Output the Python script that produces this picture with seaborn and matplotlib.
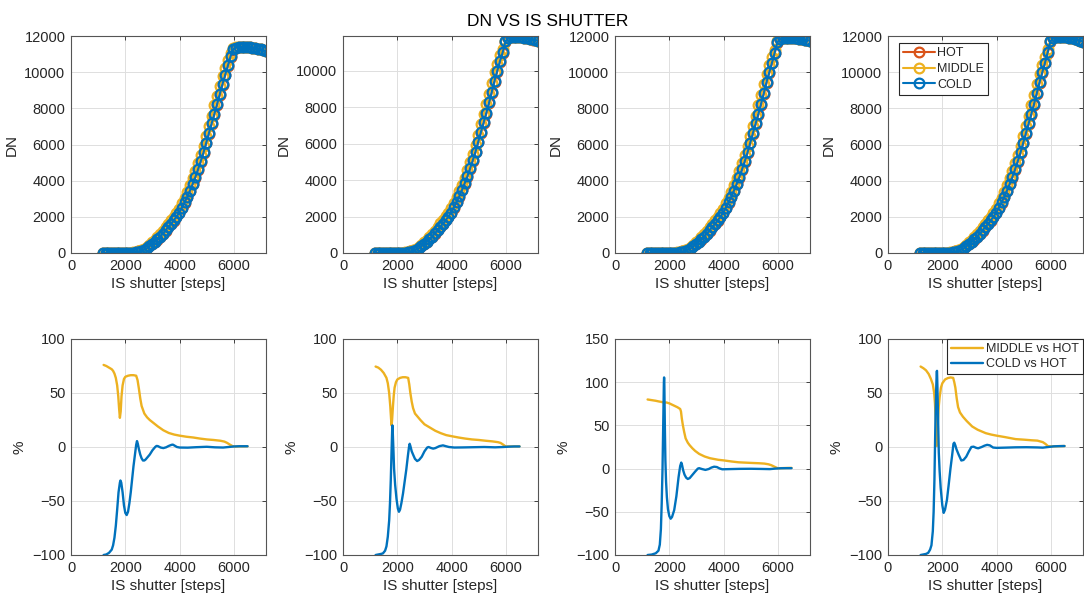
import matplotlib
matplotlib.use("Agg")
import matplotlib.pyplot as plt
import seaborn as sns

# ---------------- data ----------------
shutter_steps = [1180, 1280, 1380, 1480, 1580, 1680, 1780, 1880, 1980, 2080,
                 2180, 2280, 2380, 2480, 2580, 2680, 2780, 2880, 2980, 3080,
                 3180, 3280, 3380, 3480, 3580, 3680, 3780, 3880, 3980, 4080,
                 4180, 4280, 4380, 4480, 4580, 4680, 4780, 4880, 4980, 5080,
                 5180, 5280, 5380, 5480, 5580, 5680, 5780, 5880, 5980, 6080,
                 6180, 6280, 6380, 6480, 6580, 6680, 6780, 6880, 6980, 7080, 7180]

cold_low = [0, 0, 0, 0, 0, 0, 0, 0, 3, 6, 12, 20, 35, 70, 110, 170, 250, 360,
            480, 610, 750, 900, 1070, 1250, 1440, 1610, 1800, 2000,
            2220, 2500, 2800, 3100, 3450, 3820, 4200, 4640, 5090, 5560,
            6100, 6640, 7170, 7700, 8260, 8850, 9450, 9990, 10520]
middle_low = [0, 0, 0, 0, 0, 0, 0, 0, 5, 10, 19, 33, 57, 110, 155, 225, 320, 450,
              585, 730, 885, 1045, 1230, 1425, 1630, 1805, 2005, 2220,
              2455, 2750, 3065, 3380, 3745, 4125, 4525, 4980, 5445, 5940,
              6495, 7050, 7600, 8160, 8740, 9335, 9920, 10390, 10835]
hot_low = [0, 0, 0, 0, 0, 0, 0, 0, 4, 8, 15, 25, 45, 85, 125, 190, 275, 380,
           490, 615, 745, 895, 1060, 1240, 1425, 1600, 1795, 1990,
           2205, 2480, 2780, 3080, 3430, 3790, 4170, 4600, 5050, 5520,
           6060, 6590, 7120, 7650, 8210, 8800, 9400, 9950, 10480]

# panel 1
cold_1 = cold_low[:42] + [8240, 8800, 9350, 9870, 10380, 10900, 11280, 11360, 11380,
                          11390, 11395, 11390, 11380, 11360, 11330, 11300, 11260, 11210, 11150]
middle_1 = middle_low[:42] + [8700, 9230, 9780, 10250, 10680, 11060, 11310, 11365, 11383,
                              11392, 11397, 11392, 11382, 11362, 11332, 11302, 11262, 11212, 11152]
hot_1 = hot_low[:42] + [8190, 8750, 9300, 9830, 10340, 10860, 11250, 11350, 11375,
                        11385, 11390, 11385, 11375, 11355, 11325, 11295, 11255, 11205, 11145]
# panel 2
cold_2 = cold_low + [11000, 11600, 11780, 11830, 11850, 11855, 11850, 11830, 11800,
                     11770, 11740, 11710, 11680, 11640]
middle_2 = middle_low + [11170, 11640, 11785, 11835, 11855, 11858, 11853, 11833, 11803,
                         11773, 11743, 11713, 11683, 11643]
hot_2 = hot_low + [10960, 11570, 11770, 11825, 11845, 11850, 11845, 11825, 11795,
                   11765, 11735, 11705, 11675, 11635]
# panel 3
cold_3 = cold_low + [11080, 11660, 11830, 11880, 11900, 11905, 11900, 11890, 11870,
                     11850, 11820, 11790, 11770, 11740]
middle_3 = middle_low + [11250, 11700, 11835, 11885, 11905, 11908, 11903, 11893, 11873,
                         11853, 11823, 11793, 11773, 11743]
hot_3 = hot_low + [11040, 11630, 11820, 11875, 11895, 11900, 11895, 11885, 11865,
                   11845, 11815, 11785, 11765, 11735]
# panel 4
cold_4 = cold_low + [11100, 11700, 11880, 11930, 11950, 11955, 11950, 11930, 11900,
                     11870, 11830, 11790, 11740, 11690]
middle_4 = middle_low + [11270, 11740, 11885, 11935, 11955, 11958, 11952, 11932, 11902,
                         11872, 11832, 11792, 11742, 11692]
hot_4 = hot_low + [11060, 11670, 11870, 11925, 11945, 11950, 11945, 11925, 11895,
                   11865, 11825, 11785, 11735, 11685]

# bottom row: percentage differences
mid_x_1 = [1200, 1300, 1400, 1500, 1550, 1600, 1650, 1700, 1740, 1770, 1800, 1830, 1860, 1900,
           1950, 2000, 2100, 2200, 2300, 2400, 2450, 2500, 2550, 2600, 2700, 2800, 2900, 3000,
           3200, 3400, 3600, 3800, 4000, 4250, 4500, 4750, 5000, 5250, 5500, 5650, 5750, 5850,
           5950, 6050, 6200, 6350, 6500]
mid_y_1 = [76, 75, 73.5, 72, 70.5, 68, 64, 57, 47, 36, 27, 33, 47, 57,
           63, 65, 66, 66.5, 66.5, 66, 62, 54, 45, 38, 31, 27.5, 25, 23,
           19, 15.5, 13, 11.5, 10.5, 9.5, 8.8, 7.8, 7, 6.5, 5.8, 5, 3.8, 2.2,
           0.8, 0.4, 0.6, 0.6, 0.7]
cold_x_1 = [1200, 1300, 1400, 1500, 1550, 1600, 1650, 1700, 1750, 1800, 1820, 1850, 1900, 1950,
            2000, 2050, 2100, 2150, 2200, 2250, 2300, 2350, 2400, 2430, 2460, 2500, 2550, 2600,
            2650, 2700, 2750, 2800, 2900, 3000, 3100, 3150, 3200, 3300, 3400, 3500, 3600, 3700,
            3750, 3800, 3900, 4000, 4300, 4600, 5000, 5300, 5600, 5800, 6000, 6200, 6500]
cold_y_1 = [-100, -99.5, -98, -95, -91, -84, -73, -58, -42, -33, -31, -33, -42, -54,
            -61, -63, -60, -52, -42, -30, -18, -8, 2, 5.5, 3, -2, -7, -10.5,
            -12.5, -12.5, -11.5, -10, -7, -3, 0, 1, 0.8, -0.5, -1, -0.3, 1, 2,
            2.2, 1.5, 0, -0.5, -0.6, -0.2, 0.2, -0.3, -0.5, 0, 0.5, 0.7, 0.7]

mid_x_2 = [1200, 1300, 1400, 1500, 1600, 1650, 1700, 1740, 1770, 1790, 1810, 1840, 1870, 1900,
           1950, 2000, 2100, 2200, 2300, 2400, 2440, 2480, 2530, 2580, 2650, 2750, 2850, 3000,
           3200, 3400, 3600, 3800, 4000, 4250, 4500, 4750, 5000, 5250, 5500, 5700, 5800, 5880,
           5950, 6000, 6200, 6500]
mid_y_2 = [74.5, 73.5, 71.5, 68.5, 64, 59, 50, 38, 26, 20, 26, 38, 48, 55,
           60, 62.5, 64, 64.6, 64.6, 64, 58, 50, 42, 36, 31, 28, 25, 21,
           18, 15, 12.8, 11, 10, 8.8, 7.8, 7, 6.5, 5.8, 5.2, 4.5, 3.8, 2.5,
           1.2, 0.5, 0.5, 0.6]
cold_x_2 = [1200, 1300, 1400, 1470, 1550, 1600, 1650, 1700, 1730, 1760, 1790, 1810, 1820, 1835,
            1860, 1880, 1920, 1970, 2020, 2060, 2100, 2150, 2210, 2270, 2330, 2390, 2430, 2455,
            2480, 2530, 2580, 2650, 2730, 2800, 2900, 3000, 3100, 3150, 3250, 3320, 3400, 3550,
            3680, 3780, 3900, 4100, 4400, 4800, 5200, 5600, 5900, 6100, 6300, 6500]
cold_y_2 = [-100, -99.5, -99, -98.5, -96, -92, -83, -68, -52, -30, -2, 15, 20, 12,
            -5, -20, -35, -48, -57, -60, -58, -52, -43, -32, -21, -8, 0, 3,
            1, -4, -7, -11, -13, -12, -9, -4, -0.5, 0, -1, -1.5, -1, 0.8,
            1.5, 0.8, 0, -0.5, -0.4, -0.2, 0, -0.3, 0, 0.3, 0.5, 0.5]

mid_x_3 = [1200, 1300, 1400, 1500, 1600, 1700, 1800, 1900, 2000, 2100, 2200, 2300, 2400, 2430,
           2460, 2500, 2550, 2600, 2680, 2750, 2850, 2950, 3100, 3300, 3500, 3800, 4000, 4300,
           4545, 4800, 5000, 5300, 5500, 5650, 5750, 5850, 5950, 6000, 6200, 6420, 6500]
mid_y_3 = [80, 79.5, 79, 78.5, 77.8, 77.2, 76.5, 76.5, 75.5, 74, 72.5, 71, 69, 66,
           58, 50, 42, 35, 30, 27, 23.5, 20.5, 17, 14, 12, 10.2, 9.5, 8.2,
           7.3, 6.9, 6.6, 6.2, 5.8, 5, 4, 2.5, 1, 0.4, 0.6, 0.8, 0.8]
cold_x_3 = [1200, 1350, 1500, 1600, 1650, 1690, 1720, 1750, 1780, 1800, 1808, 1818, 1835, 1855,
            1880, 1910, 1950, 2000, 2050, 2100, 2180, 2260, 2340, 2400, 2440, 2470, 2510, 2560,
            2620, 2680, 2750, 2830, 2950, 3050, 3100, 3200, 3330, 3450, 3550, 3650, 3750, 3850,
            3950, 4200, 4600, 5000, 5400, 5700, 5900, 6100, 6300, 6500]
cold_y_3 = [-100, -99.5, -98, -95, -88, -70, -40, 0, 60, 100, 105.5, 95, 50, 10,
            -15, -33, -47, -55, -58, -56, -48, -32, -10, 3, 7, 4, -2, -7,
            -10.5, -12, -11, -8, -3.5, 0, 0.5, -0.5, -1.5, -0.5, 1.2, 2.2, 1.8, 0.2,
            -0.8, -0.6, -0.3, -0.2, -0.4, -0.6, 0, 0.4, 0.5, 0.5]

mid_x_4 = [1200, 1300, 1400, 1500, 1580, 1650, 1700, 1730, 1760, 1785, 1800, 1815, 1840, 1870,
           1900, 1950, 2000, 2100, 2200, 2300, 2400, 2440, 2480, 2530, 2580, 2650, 2760, 2900,
           3100, 3300, 3600, 3800, 4000, 4300, 4700, 5000, 5300, 5500, 5700, 5800, 5890, 6000,
           6200, 6500]
mid_y_4 = [74.5, 73, 71, 67.5, 63, 58, 50, 40, 25, 10, 1, 8, 25, 38,
           46, 55, 59, 62.5, 63.8, 64.4, 64, 60, 55, 45, 37, 32, 28, 24,
           19, 16, 12.8, 11.5, 10.5, 9.2, 7.3, 6.8, 6.2, 5.9, 4.5, 2.8, 0.8, 0.5,
           0.7, 0.9]
cold_x_4 = [1200, 1300, 1400, 1480, 1550, 1600, 1650, 1680, 1710, 1740, 1770, 1795, 1805, 1820,
            1845, 1870, 1900, 1940, 2000, 2050, 2100, 2170, 2230, 2300, 2360, 2410, 2440, 2480,
            2520, 2600, 2700, 2780, 2880, 2980, 3070, 3150, 3250, 3320, 3450, 3550, 3650, 3750,
            3870, 4000, 4300, 4700, 5100, 5500, 5700, 5900, 6100, 6300, 6500]
cold_y_4 = [-100, -99.5, -99, -98, -95, -91, -78, -60, -30, 15, 50, 70, 70.5, 55,
            25, -5, -22, -38, -54, -61, -58, -49, -36, -20, -8, 3, 4, 1.5,
            -2, -7, -12.5, -12, -9, -4, 0, 0.3, -0.8, -1.2, 0, 1.2, 2, 1.5,
            -0.5, -0.8, -0.6, -0.3, -0.2, -0.4, -0.6, 0, 0.6, 0.8, 0.9]

top_series = [(hot_1, middle_1, cold_1), (hot_2, middle_2, cold_2),
              (hot_3, middle_3, cold_3), (hot_4, middle_4, cold_4)]
bottom_series = [(mid_x_1, mid_y_1, cold_x_1, cold_y_1), (mid_x_2, mid_y_2, cold_x_2, cold_y_2),
                 (mid_x_3, mid_y_3, cold_x_3, cold_y_3), (mid_x_4, mid_y_4, cold_x_4, cold_y_4)]
top_ylims = [(0, 12000), (0, 11900), (0, 12000), (0, 12000)]
bottom_ylims = [(-100, 100), (-100, 100), (-100, 150), (-100, 100)]
x_ticks = [0, 2000, 4000, 6000]

# ---------------- style ----------------
sns.set_theme(style="whitegrid")
plt.rcParams['font.family'] = ['Liberation Sans', 'DejaVu Sans']

C_HOT = "#D95319"
C_MID = "#EDB120"
C_COLD = "#0072BD"
AX_COL = "#262626"

fig = plt.figure(figsize=(10.84, 5.99), dpi=100)
fig.patch.set_facecolor("white")

lefts = [71, 343, 615, 888]
W = 195
top_rect = (253, 217)   # bottom pixel, height
bot_rect = (555, 216)


def style_axis(ax):
    ax.set_facecolor("white")
    ax.grid(True, color="#dedede", linewidth=0.7)
    for s in ax.spines.values():
        s.set_visible(True)
        s.set_color("#555555")
        s.set_linewidth(0.8)
    ax.tick_params(direction="in", length=3, width=0.6, colors=AX_COL,
                   labelsize=10.5, pad=4, top=True, right=True,
                   labeltop=False, labelright=False)
    ax.set_xlim(0, 7180)
    ax.set_xticks(x_ticks)
    ax.set_xlabel("IS shutter [steps]", fontsize=11, color=AX_COL, labelpad=3)


fig_w, fig_h = 1084, 599
for i in range(4):
    # top row
    ax = fig.add_axes([lefts[i] / fig_w, 1 - top_rect[0] / fig_h, W / fig_w, top_rect[1] / fig_h])
    hot, mid, cold = top_series[i]
    for ys, col, lab in [(hot, C_HOT, "HOT"), (mid, C_MID, "MIDDLE"), (cold, C_COLD, "COLD")]:
        sns.lineplot(x=shutter_steps, y=ys, ax=ax, color=col, linewidth=1.5, marker="o",
                     markersize=7, markerfacecolor="none", markeredgecolor=col,
                     markeredgewidth=1.6, label=lab, legend=False)
    style_axis(ax)
    ax.set_ylim(*top_ylims[i])
    ax.set_yticks(list(range(0, int(top_ylims[i][1]) + 1, 2000)))
    ax.set_ylabel("DN", fontsize=11, color=AX_COL, labelpad=4)
    if i == 3:
        leg = ax.legend(loc="upper left", bbox_to_anchor=(0.056, 0.968), borderaxespad=0,
                        fontsize=9, frameon=True, fancybox=False, framealpha=1,
                        edgecolor=AX_COL, labelspacing=0.3, borderpad=0.35,
                        handlelength=2.5, handletextpad=0.2, numpoints=1)
        leg.get_frame().set_linewidth(0.8)

    # bottom row
    ax = fig.add_axes([lefts[i] / fig_w, 1 - bot_rect[0] / fig_h, W / fig_w, bot_rect[1] / fig_h])
    mx, my, cx, cy = bottom_series[i]
    sns.lineplot(x=mx, y=my, ax=ax, color=C_MID, linewidth=1.7, label="MIDDLE vs HOT", legend=False)
    sns.lineplot(x=cx, y=cy, ax=ax, color=C_COLD, linewidth=1.7, label="COLD vs HOT", legend=False)
    style_axis(ax)
    lo, hi = bottom_ylims[i]
    ax.set_ylim(lo, hi)
    ax.set_yticks(list(range(lo, hi + 1, 50)))
    ax.set_ylabel("%", fontsize=11, color=AX_COL, labelpad=4)
    if i == 3:
        leg = ax.legend(loc="upper left", bbox_to_anchor=(0.30, 1.0), borderaxespad=0,
                        fontsize=9, frameon=True, fancybox=False, framealpha=1,
                        edgecolor=AX_COL, labelspacing=0.2, borderpad=0.35,
                        handlelength=2.6, handletextpad=0.2)
        leg.get_frame().set_linewidth(0.8)

fig.text(0.505, 1 - 21 / fig_h, "DN VS IS SHUTTER", ha="center", va="center",
         fontsize=12.5, color="black")

fig.savefig("out.png", dpi=100)
